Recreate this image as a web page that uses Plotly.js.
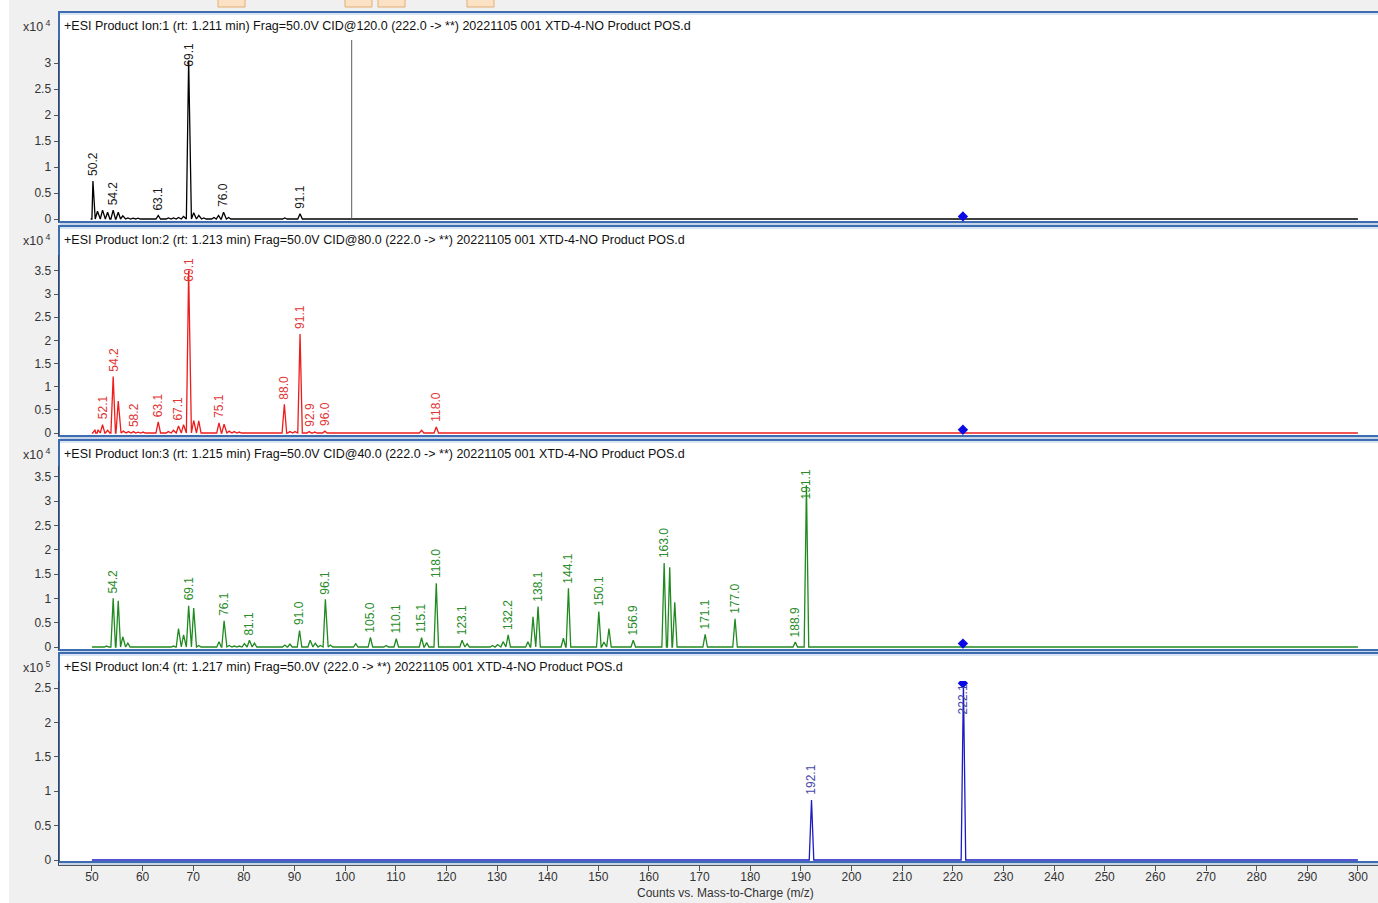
<!DOCTYPE html>
<html><head><meta charset="utf-8">
<script src="https://cdn.plot.ly/plotly-3.0.1.min.js"></script>
<style>html,body{margin:0;padding:0;background:#f0f0f0;overflow:hidden}#chart{width:1378px;height:903px}</style>
</head><body><div id="chart"></div>
<script>
// ---------------- DATA ----------------
const headers = [
  '+ESI Product Ion:1 (rt: 1.211 min) Frag=50.0V CID@120.0 (222.0 -> **) 20221105 001 XTD-4-NO Product POS.d',
  '+ESI Product Ion:2 (rt: 1.213 min) Frag=50.0V CID@80.0 (222.0 -> **) 20221105 001 XTD-4-NO Product POS.d',
  '+ESI Product Ion:3 (rt: 1.215 min) Frag=50.0V CID@40.0 (222.0 -> **) 20221105 001 XTD-4-NO Product POS.d',
  '+ESI Product Ion:4 (rt: 1.217 min) Frag=50.0V (222.0 -> **) 20221105 001 XTD-4-NO Product POS.d'
];
const expLabels = ['x10<sup> 4</sup>', 'x10<sup> 4</sup>', 'x10<sup> 4</sup>', 'x10<sup> 5</sup>'];
const scales = [1e4, 1e4, 1e4, 1e5];
const xTitle = 'Counts vs. Mass-to-Charge (m/z)';
const xTicks = [50,60,70,80,90,100,110,120,130,140,150,160,170,180,190,200,210,220,230,240,250,260,270,280,290,300];
const scanStart = 50, scanEnd = 300;

// Panel 1: CID 120
const mz1  = [50.2, 51.1, 52.1, 53.1, 54.2, 55.2, 56.1, 57.1, 58.1, 59.1, 63.1, 65.1, 66.1, 67.1, 68.1, 69.1, 70.1, 71.1, 72.1, 74.1, 75.0, 76.0, 77.0, 88.1, 91.1];
const int1 = [7300, 1500, 1700, 1300, 1700, 1300, 600, 200, 150, 150, 700, 200, 200, 300, 500, 30500, 1200, 700, 200, 300, 700, 1300, 300, 200, 1000];
const lab1 = [50.2, 54.2, 63.1, 69.1, 76.0, 91.1];

// Panel 2: CID 80
const mz2  = [50.6, 51.2, 52.1, 53.1, 54.2, 55.2, 56.2, 57.2, 58.2, 59.1, 60.1, 63.1, 65.1, 66.1, 67.1, 68.1, 69.1, 70.1, 71.1, 75.1, 76.1, 77.1, 78.1, 79.1, 88.0, 89.1, 90.1, 91.1, 92.9, 94.0, 96.0, 99.0, 102.0, 105.0, 107.9, 110.1, 115.1, 118.0];
const int2 = [700, 700, 1800, 600, 12200, 6900, 400, 300, 300, 200, 200, 2400, 300, 600, 1500, 1800, 35000, 2700, 2600, 2200, 1900, 400, 300, 200, 6200, 300, 300, 21400, 300, 200, 400, 150, 150, 150, 150, 150, 600, 1300];
const lab2 = [52.1, 54.2, 58.2, 63.1, 67.1, 69.1, 75.1, 88.0, 91.1, 92.9, 96.0, 118.0];

// Panel 3: CID 40
const mz3  = [50.9, 51.9, 52.9, 54.2, 55.2, 56.1, 57.1, 66.1, 67.1, 68.1, 69.1, 70.1, 71.1, 75.1, 76.1, 77.1, 78.1, 79.1, 80.1, 81.1, 82.1, 88.1, 89.1, 91.0, 93.1, 94.1, 95.1, 96.1, 97.1, 102.1, 105.0, 108.1, 110.1, 115.1, 116.1, 118.0, 123.1, 124.1, 129.1, 130.1, 131.2, 132.2, 136.1, 137.1, 138.1, 143.1, 144.1, 150.1, 151.1, 152.1, 156.9, 163.0, 164.1, 165.1, 171.1, 177.0, 188.9, 191.1];
const int3 = [150, 150, 200, 10000, 9500, 2100, 800, 200, 3800, 2500, 8500, 8000, 300, 1100, 5400, 300, 200, 200, 700, 1400, 800, 400, 600, 3400, 1400, 800, 300, 9800, 400, 700, 2000, 300, 1700, 1900, 900, 13100, 1400, 700, 300, 500, 1100, 2500, 1100, 6200, 8300, 1800, 12100, 7300, 1000, 3800, 1400, 17300, 16400, 9200, 2600, 5800, 1000, 33300];
const lab3 = [54.2, 69.1, 76.1, 81.1, 91.0, 96.1, 105.0, 110.1, 115.1, 118.0, 123.1, 132.2, 138.1, 144.1, 150.1, 156.9, 163.0, 171.1, 177.0, 188.9, 191.1];

// Panel 4: no CID
const mz4  = [192.1, 222.1];
const int4 = [87000, 257000];
const lab4 = [192.1, 222.1];

// precursor marker and cursor
const precursorMz = 222.0;
const precursorY = [500, 700, 700, 257000];
const cursorMz1 = 101.3;

const yTicks = [
  [0, 0.5, 1, 1.5, 2, 2.5, 3],
  [0, 0.5, 1, 1.5, 2, 2.5, 3, 3.5],
  [0, 0.5, 1, 1.5, 2, 2.5, 3, 3.5],
  [0, 0.5, 1, 1.5, 2, 2.5]
];

// ---------------- LAYOUT GEOMETRY (pixels) ----------------
const W = 1378, H = 903, L = 59, R = 0, T = 12, B = 38;
const plotW = W - L - R, plotH = H - T - B;
const px2p = px => (px - L) / plotW;
const py2p = py => (H - B - py) / plotH;
const geom = [
  {top: 12,  bottom: 222, axTop: 40,  axBot: 222, zero: 219, ppu: 52.0},
  {top: 226, bottom: 436, axTop: 255, axBot: 436, zero: 433, ppu: 46.3},
  {top: 440, bottom: 650, axTop: 466, axBot: 650, zero: 647, ppu: 48.6},
  {top: 653, bottom: 862, axTop: 681, axBot: 865, zero: 860, ppu: 68.8}
];
const traceColors = ['#000000', '#ee1c1c', '#208a20', '#1c1cc4'];
const labelColors = ['#1a1a1a', '#e03535', '#2a8c2a', '#4646a8'];
const FONT = 'Liberation Sans, Arial, sans-serif';

const panels = [
  {mz: mz1, it: int1, lab: lab1},
  {mz: mz2, it: int2, lab: lab2},
  {mz: mz3, it: int3, lab: lab3},
  {mz: mz4, it: int4, lab: lab4}
];

function profile(mz, it, w) {
  const pts = [[scanStart, 0], [scanEnd, 0]];
  mz.forEach((m, i) => { pts.push([m - w, 0], [m, it[i]], [m + w, 0]); });
  pts.sort((a, b) => a[0] - b[0]);
  return {x: pts.map(p => p[0]), y: pts.map(p => p[1])};
}

const traces = [], annotations = [], shapes = [];
const layout = {
  width: W, height: H,
  margin: {l: L, r: R, t: T, b: B, pad: 0},
  paper_bgcolor: '#f0f0f0', plot_bgcolor: 'rgba(0,0,0,0)',
  showlegend: false,
  font: {family: FONT, size: 12, color: '#333'},
  xaxis: {
    range: [43.5, 43.5 + plotW / 5.064], anchor: 'y4',
    tickvals: xTicks, ticks: 'outside', ticklen: 5, tickcolor: '#555',
    ticklabelstandoff: -4,
    showline: true, linecolor: '#555', linewidth: 1,
    showgrid: false, zeroline: false,
    tickfont: {family: FONT, size: 12, color: '#333'}
  },
  annotations, shapes
};

// UI chrome
shapes.push({type: 'rect', xref: 'paper', yref: 'paper', x0: px2p(0), x1: px2p(9), y0: py2p(903), y1: py2p(0), fillcolor: '#ffffff', line: {width: 0}, layer: 'below'});
[[218, 245], [345, 372], [378, 405], [467, 494]].forEach(b => {
  shapes.push({type: 'rect', xref: 'paper', yref: 'paper', x0: px2p(b[0]), x1: px2p(b[1]), y0: py2p(7), y1: py2p(-3), fillcolor: '#fbe2c4', line: {color: '#e3ad72', width: 1}, layer: 'below'});
});

panels.forEach((p, i) => {
  const g = geom[i], sc = scales[i];
  const yName = i === 0 ? 'yaxis' : 'yaxis' + (i + 1);
  const yRef = i === 0 ? 'y' : 'y' + (i + 1);
  const rng = [(g.zero - g.axBot) / g.ppu * sc, (g.zero - g.axTop) / g.ppu * sc];
  layout[yName] = {
    domain: [py2p(g.axBot), py2p(g.axTop)], anchor: 'x', range: rng,
    tickvals: yTicks[i].map(v => v * sc), ticktext: yTicks[i].map(String),
    ticks: 'outside', ticklen: 4, tickcolor: '#555',
    showline: true, linecolor: '#3d4656', linewidth: 1.5,
    showgrid: false, zeroline: false,
    tickfont: {family: FONT, size: 12, color: '#333'}
  };
  // panel box
  shapes.push({type: 'rect', xref: 'paper', yref: 'paper', x0: px2p(59), x1: px2p(1382), y0: py2p(g.bottom), y1: py2p(g.top), fillcolor: '#ffffff', line: {color: '#3e6cb0', width: 2}, layer: 'below'});
  shapes.push({type: 'line', xref: 'paper', yref: 'paper', x0: px2p(60), x1: px2p(1382), y0: py2p(g.top + 2), y1: py2p(g.top + 2), line: {color: '#b4cbe9', width: 1}, layer: 'below'});
  shapes.push({type: 'line', xref: 'paper', yref: 'paper', x0: px2p(60), x1: px2p(1382), y0: py2p(g.bottom + 2), y1: py2p(g.bottom + 2), line: {color: '#9ab8e0', width: 1}, layer: 'below'});

  const pr = profile(p.mz, p.it, 0.45);
  traces.push({type: 'scatter', mode: 'lines', x: pr.x, y: pr.y, xaxis: 'x', yaxis: yRef,
    line: {color: traceColors[i], width: 1.3}, hoverinfo: 'skip'});
  traces.push({type: 'scatter', mode: 'markers', x: [precursorMz], y: [precursorY[i]], xaxis: 'x', yaxis: yRef,
    marker: {symbol: 'diamond', size: 8, color: '#0a0ae6'}, hoverinfo: 'skip'});

  // header & exponent
  annotations.push({xref: 'paper', yref: 'paper', x: px2p(62), y: py2p(g.top + 14), xanchor: 'left', yanchor: 'middle',
    text: headers[i], showarrow: false, font: {family: FONT, size: 12.5, color: '#111'}});
  annotations.push({xref: 'paper', yref: 'paper', x: px2p(53), y: py2p(g.top + 14), xanchor: 'right', yanchor: 'middle',
    text: expLabels[i], showarrow: false, font: {family: FONT, size: 12.5, color: '#333'}});

  // peak labels
  p.lab.forEach(m => {
    let j = 0, best = 1e9;
    p.mz.forEach((v, k) => { if (Math.abs(v - m) < best) { best = Math.abs(v - m); j = k; } });
    const h = p.it[j];
    const txt = m.toFixed(1);
    const len = txt.length * 6.3;
    const pyPeak = g.zero - h / sc * g.ppu;
    const clamp = (pyPeak - g.axTop) < len + 5;
    annotations.push({xref: 'x', yref: yRef, x: m, y: clamp ? rng[1] : h,
      xanchor: 'center', yanchor: clamp ? 'top' : 'bottom', yshift: clamp ? -1 : 3,
      textangle: -90, text: txt, showarrow: false,
      font: {family: FONT, size: 12, color: labelColors[i]}});
  });
});

// cursor line in panel 1
shapes.push({type: 'line', xref: 'x', yref: 'y', x0: cursorMz1, x1: cursorMz1, y0: 0, y1: layout.yaxis.range[1],
  line: {color: '#5a5a5a', width: 1}});

// x-axis title
annotations.push({xref: 'paper', yref: 'paper', x: px2p(725), y: py2p(893), xanchor: 'center', yanchor: 'middle',
  text: xTitle, showarrow: false, font: {family: FONT, size: 12, color: '#333'}});

Plotly.newPlot('chart', traces, layout, {displayModeBar: false, staticPlot: true});
</script>
</body></html>
